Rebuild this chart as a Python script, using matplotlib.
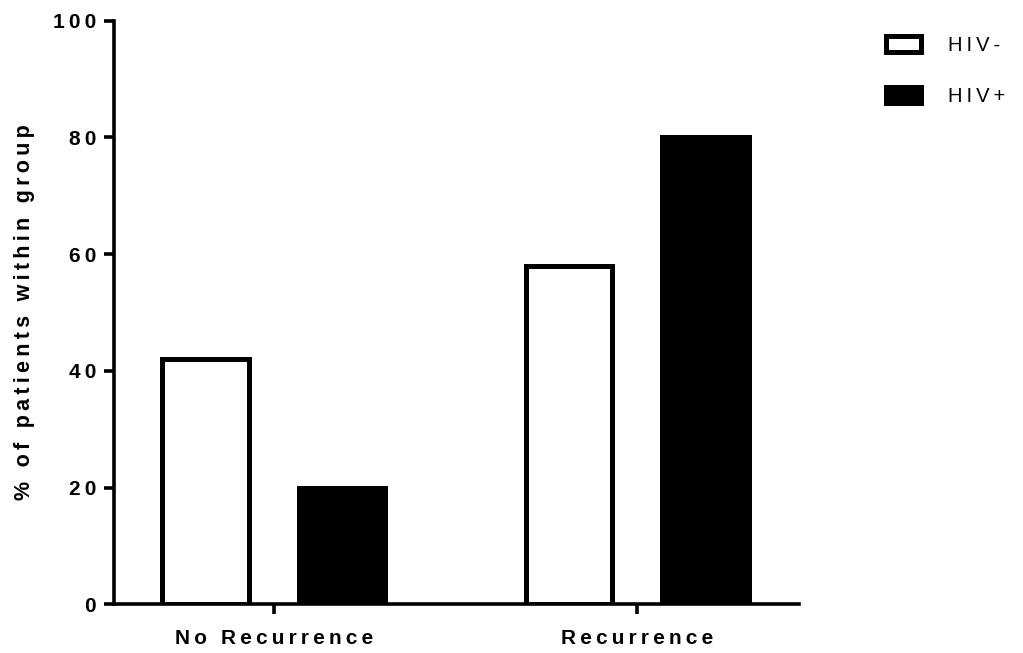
import matplotlib
matplotlib.use("Agg")
import matplotlib.pyplot as plt
import numpy as np

plt.rcParams['font.family'] = ['Liberation Sans', 'DejaVu Sans']

# data
categories = ["No Recurrence", "Recurrence"]
groups = ["HIV-", "HIV+"]
hiv_neg = [42.0, 58.0]
hiv_pos = [20.0, 80.0]
y_ticks = [0, 20, 40, 60, 80, 100]


def spaced(s):
    # the original has wide letter spacing, fake it with thin spaces
    return "\u2009".join(s)


fig = plt.figure(figsize=(10.23, 6.53), dpi=100)
ax = fig.add_axes([0.1117, 0.0743, 0.6696, 0.8943])

x = np.arange(len(categories))
off = 0.188
w = 0.237
lw = 3.6

ax.bar(x - off, hiv_neg, w, facecolor='white', edgecolor='black',
       linewidth=lw, label=spaced(groups[0]))
ax.bar(x + off, hiv_pos, w, facecolor='black', edgecolor='black',
       linewidth=lw, label=spaced(groups[1]))

ax.set_xlim(-0.439, 1.446)
ax.set_ylim(0, 100)

ax.spines['top'].set_visible(False)
ax.spines['right'].set_visible(False)
ax.spines['left'].set_linewidth(2.6)
ax.spines['bottom'].set_linewidth(2.6)

ax.set_yticks(y_ticks)
ax.set_yticklabels([spaced(str(t)) for t in y_ticks], fontsize=15, fontweight='bold')
ax.set_xticks(x)
ax.set_xticklabels([spaced(c) for c in categories], fontsize=15, fontweight='bold')
ax.tick_params(axis='both', length=7, width=2.6, color='black')
ax.tick_params(axis='y', pad=6)
ax.tick_params(axis='x', pad=11)

ax.set_ylabel(spaced("% of patients within group"), fontsize=15.5,
              fontweight='bold', labelpad=13)

leg = ax.legend(loc='upper left', bbox_to_anchor=(886 / 1023, 1 - 36 / 653),
                bbox_transform=fig.transFigure, frameon=False, fontsize=14.5,
                handlelength=1.76, handleheight=0.85, handletextpad=1.3,
                labelspacing=1.6, borderpad=0, borderaxespad=0)

fig.savefig("out.png", dpi=100)
